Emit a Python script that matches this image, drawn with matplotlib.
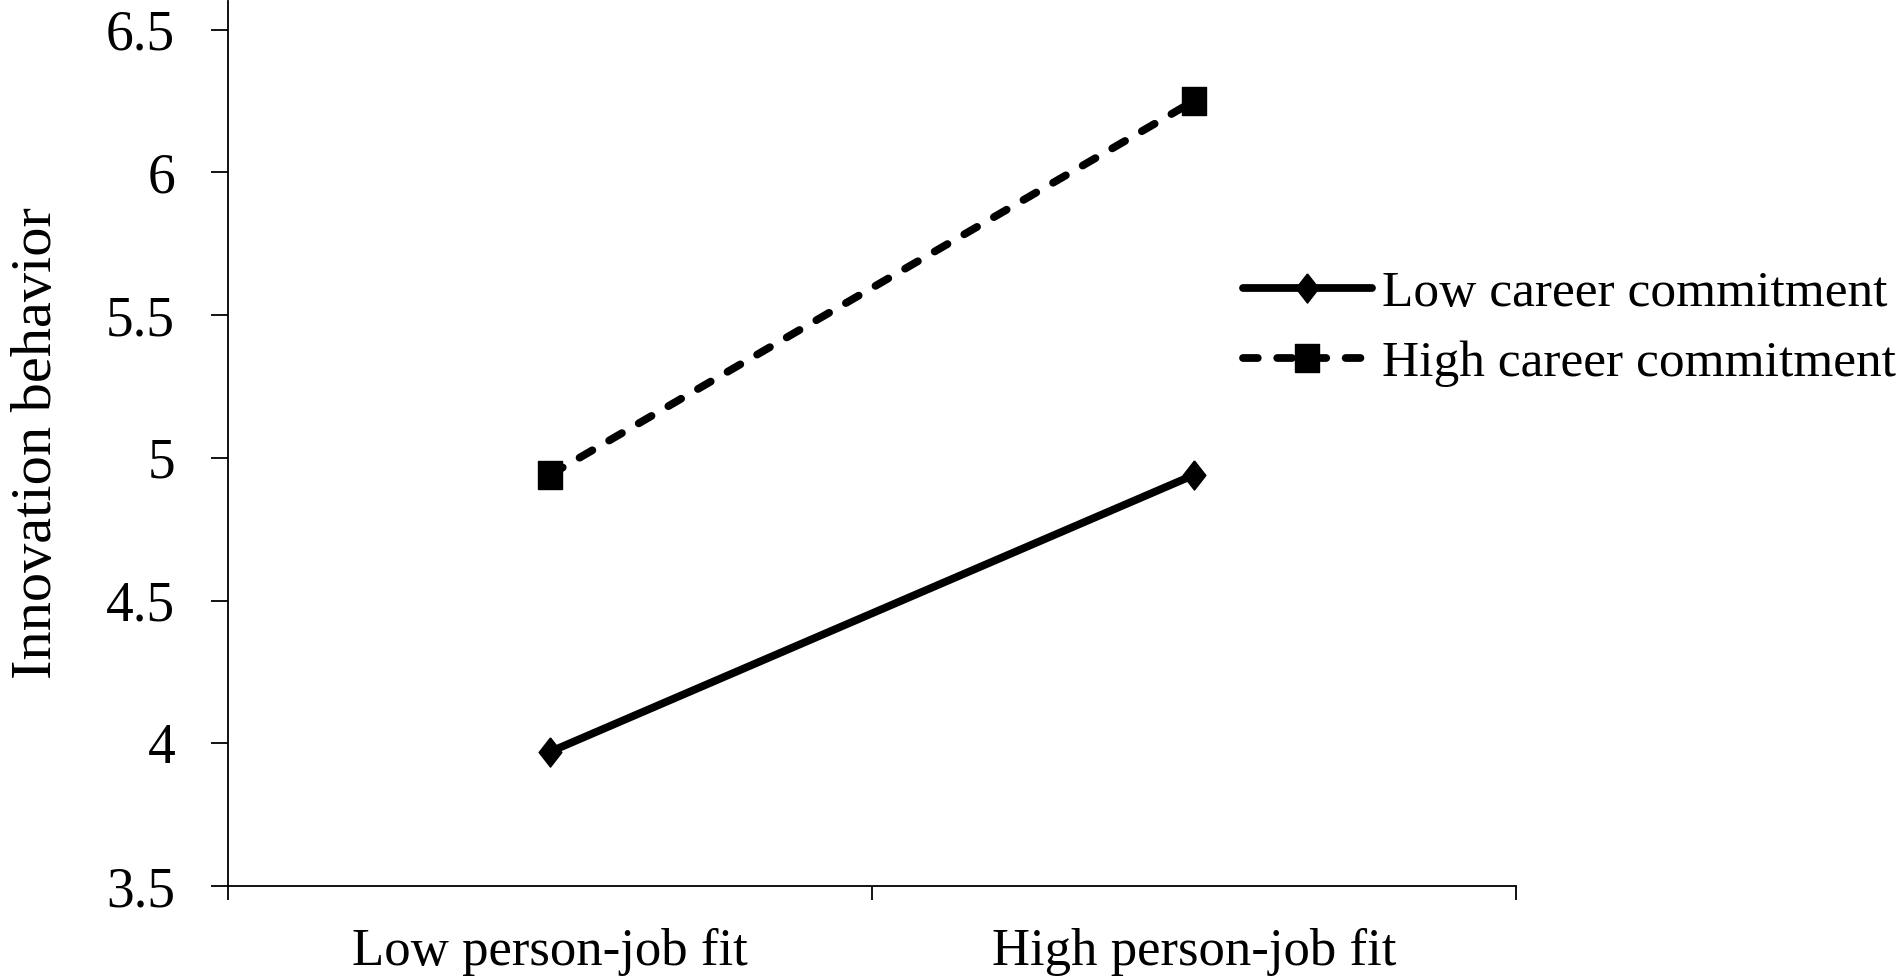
import numpy as np
from matplotlib import pyplot as plt

categories = ['Low person-job fit', 'High person-job fit']
low_cc = [3.97, 4.94]
high_cc = [4.94, 6.25]
yticks = [3.5, 4, 4.5, 5, 5.5, 6, 6.5]
ytick_labels = ['3.5', '4', '4.5', '5', '5.5', '6', '6.5']

plt.rcParams['font.family'] = ['Liberation Serif', 'DejaVu Serif']

# slightly tall diamond and square, as in the original
diamond = [(0, 1), (0.78, 0), (0, -1), (-0.78, 0), (0, 1)]
square = [(-0.85, -1), (0.85, -1), (0.85, 1), (-0.85, 1), (-0.85, -1)]

fig = plt.figure(figsize=(19.01, 9.8), dpi=100)
ax = fig.add_axes([0.1199, 0.0959, 0.6776, 0.9031])

x = np.arange(len(categories))
ax.plot(x, low_cc, color='black', lw=5.6, marker=diamond, markersize=21,
        solid_capstyle='round', label='Low career commitment')
ax.plot(x, high_cc, color='black', lw=5.6, marker=square, markersize=20,
        dashes=(1.9, 2.5), dash_capstyle='round', label='High career commitment')

ax.set_xlim(-0.5, 1.5)
ax.set_ylim(3.5, 6.6)
ax.set_yticks(yticks)
ax.set_yticklabels(ytick_labels)
ax.set_xticks(x)
ax.set_xticklabels(categories)
ax.set_xticks([-0.5, 0.5, 1.5], minor=True)
ax.tick_params(axis='x', which='major', length=0, pad=30, labelsize=38)
ax.tick_params(axis='x', which='minor', length=10, width=1.3, direction='out')
ax.tick_params(axis='y', length=12, width=1.3, direction='out', pad=26, labelsize=40)

for s in ['top', 'right']:
    ax.spines[s].set_visible(False)
for s in ['left', 'bottom']:
    ax.spines[s].set_linewidth(1.3)

ax.set_ylabel('Innovation behavior', fontsize=42)
ax.yaxis.set_label_coords(-0.128, 0.5)

fig.legend(loc='center left', bbox_to_anchor=(0.654, 0.665), frameon=False,
           fontsize=37, handlelength=2.5, handletextpad=0.2, labelspacing=0.45,
           borderaxespad=0, borderpad=0)

fig.savefig('out.png', dpi=100)
